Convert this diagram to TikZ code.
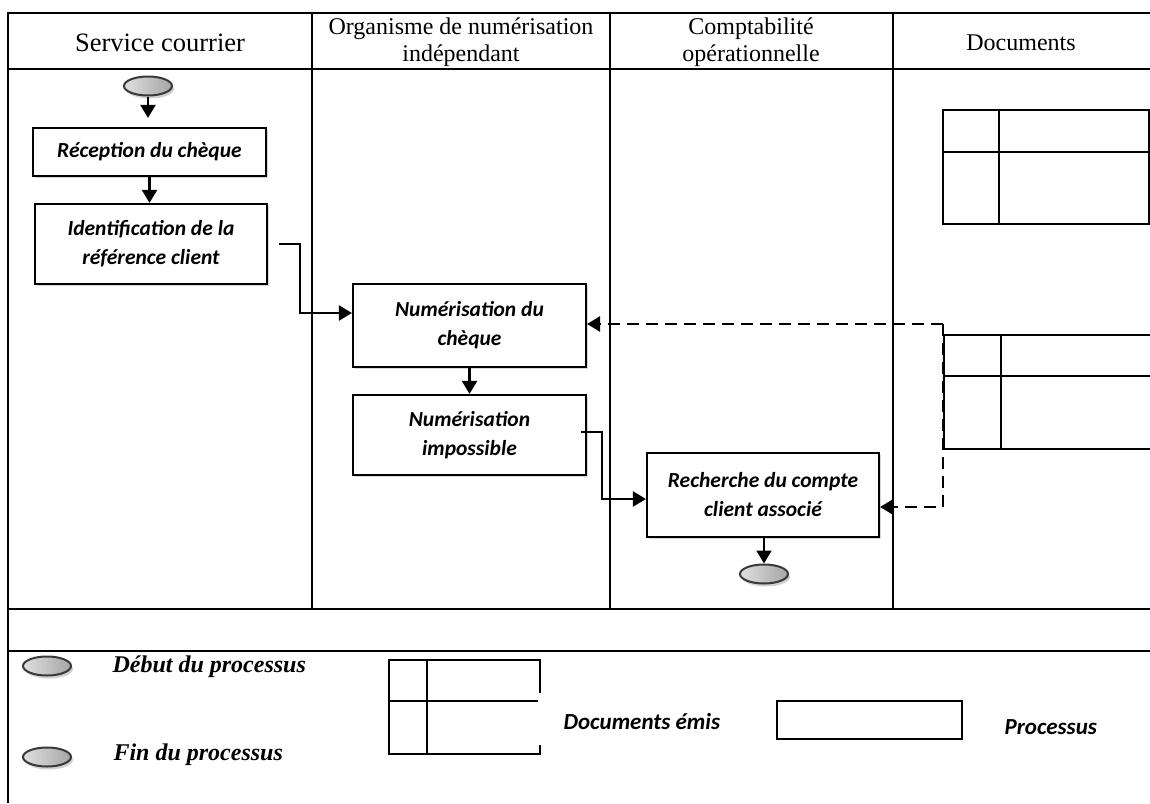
\documentclass[tikz,border=0pt]{standalone}
\usepackage{fontspec}
\setmainfont{Liberation Serif}
\newfontfamily\calfont{Carlito}
\usetikzlibrary{arrows.meta,shapes.geometric,shadows}
\begin{document}
\begin{tikzpicture}[x=1pt,y=-1pt,
  tab/.style={line width=2.1pt},
  proc/.style={draw,fill=white,line width=2.1pt,minimum width=232pt,inner sep=0pt,align=center,font=\calfont\bfseries\itshape\fontsize{21.5}{29}\selectfont,drop shadow={shadow xshift=1.5pt,shadow yshift=-1.5pt,fill=gray!60,opacity=0.5}},
  flow/.style={line width=2.1pt,-{Triangle[length=13pt,width=15pt]}},
  dflow/.style={line width=2.6pt,dash pattern=on 12pt off 7pt,-{Triangle[length=13pt,width=15pt]}},
  oval/.style={ellipse,draw=gray!45!black,line width=2pt,minimum width=48pt,minimum height=19pt,inner sep=0pt,left color=gray!25,right color=gray!70,drop shadow={shadow xshift=2pt,shadow yshift=-3pt,fill=gray!60,opacity=0.6}},
  hdr/.style={font=\fontsize{24}{27}\selectfont,align=center},
  leg/.style={anchor=west,font=\bfseries\itshape\fontsize{24}{28}\selectfont},
  legc/.style={anchor=west,font=\calfont\bfseries\itshape\fontsize{23}{28}\selectfont},
  doc/.style={line width=2.1pt}
]
\useasboundingbox (0,0) rectangle (1150,803);
% table
\draw[tab] (1150,13) -- (8,13) -- (8,803);
\draw[tab] (8,69) -- (1150,69);
\draw[tab] (8,609) -- (1150,609);
\draw[tab] (8,651) -- (1150,651);
\draw[tab] (312,13) -- (312,609);
\draw[tab] (610,13) -- (610,609);
\draw[tab] (893,13) -- (893,609);
% headers
\node[hdr,font=\fontsize{26.5}{30}\selectfont] (h1) at (160,43) {Service courrier};
\node[hdr] (h2) at (461,42) {Organisme de numérisation\\indépendant};
\node[hdr] (h3) at (751,42) {Comptabilité\\opérationnelle};
\node[hdr] (h4) at (1021,43) {Documents};
% process nodes
\node[oval] (start) at (148,86) {};
\node[proc,minimum width=233pt,minimum height=48pt] (recep) at (149.5,152) {Réception du chèque};
\node[proc,minimum height=80pt] (ident) at (151,244) {Identification de la\\référence client};
\node[proc,minimum width=233pt,minimum height=83pt] (numc) at (469.5,325.5) {Numérisation du\\chèque};
\node[proc,minimum width=233pt,minimum height=80pt] (imp) at (469.5,435) {Numérisation\\impossible};
\node[proc,minimum height=84pt] (rech) at (763,495) {Recherche du compte\\client associé};
\node[oval] (end) at (764,574) {};
% connectors
\draw[flow,shorten >=9pt] (start.south) -- (start.south |- recep.north);
\draw[flow] (recep.south) -- (recep.south |- ident.north);
\draw[flow] ([xshift=11pt]ident.east) -- ++(21,0) |- ([yshift=12.5pt]numc.west);
\draw[flow] (numc.south) -- (imp.north);
\draw[flow] ([xshift=-6pt,yshift=3pt]imp.east) -- ++(21,0) |- ([yshift=-4pt]rech.west);
\draw[flow] (rech.south -| end.north) -- (end.north);
\coordinate (dj) at (943,324);
\draw[dflow] (dj) -- (numc.east |- dj);
\draw[dflow] (dj) |- ([yshift=-12pt]rech.east);
% documents column
\draw[doc] (943,110) rectangle (1149,224);
\draw[doc] (943,152) -- (1149,152);
\draw[doc] (999,110) -- (999,224);
\draw[doc] (1150,335) -- (944,335) -- (944,449) -- (1150,449);
\draw[doc] (944,376) -- (1150,376);
\draw[doc] (1001,335) -- (1001,449);
% legend
\node[oval] (lstart) at (47,666) {};
\node[leg] (tstart) at (109,667) {Début du processus};
\node[oval] (lend) at (47,757) {};
\node[leg] (tend) at (110,755) {Fin du processus};
\draw[doc] (540,693) -- (540,660) -- (389,660) -- (389,754) -- (540,754) -- (540,745);
\draw[doc] (389,701) -- (538,701);
\draw[doc] (427,660) -- (427,754);
\node[legc] (tdoc) at (560,722) {Documents émis};
\node[draw,line width=2.1pt,minimum width=185pt,minimum height=38pt,inner sep=0pt] (lproc) at (869.5,720) {};
\node[legc] (tproc) at (1001,727) {Processus};
\end{tikzpicture}
\end{document}
